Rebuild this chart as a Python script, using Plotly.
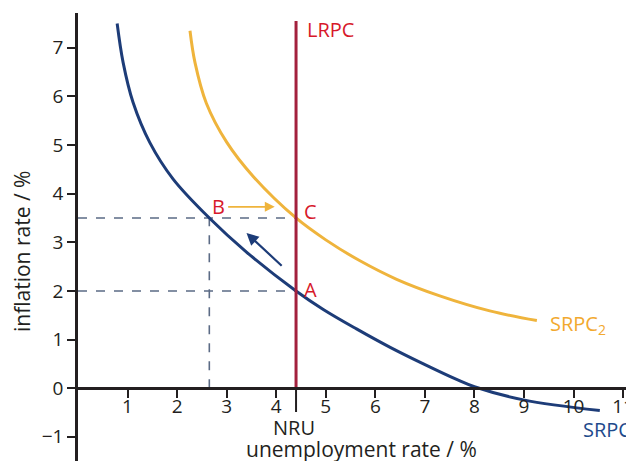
import plotly.graph_objects as go

# ---- data ----
srpc1_x = [0.79, 0.91, 1.11, 1.45, 1.92, 2.65, 3.40, 4.40, 4.95, 5.62, 6.30, 6.97, 7.64, 8.00, 8.99, 10.53]
srpc1_y = [7.50, 6.70, 5.88, 5.05, 4.30, 3.50, 2.80, 2.00, 1.62, 1.22, 0.84, 0.50, 0.18, 0.03, -0.24, -0.46]

srpc2_x = [2.26, 2.36, 2.59, 3.00, 3.54, 4.40, 5.00, 5.69, 6.43, 7.30, 8.31, 9.26]
srpc2_y = [7.35, 6.70, 5.86, 5.06, 4.35, 3.50, 3.05, 2.62, 2.24, 1.90, 1.59, 1.39]

nru = 4.4
lrpc_top = 7.55
point_b = (2.65, 3.5)
point_c = (4.4, 3.5)
point_a = (4.4, 2.0)

x_ticks = [1, 2, 3, 4, 5, 6, 7, 8, 9, 10, 11]
y_ticks = [-1, 0, 1, 2, 3, 4, 5, 6, 7]

BLUE = "#1d3c78"
YELLOW = "#efb43c"
MAROON = "#a3213d"
RED = "#d7182a"
DASH = "#5b6b85"
INK = "#231f20"

fig = go.Figure()

# dashed guides
for xs, ys in [([0, point_c[0]], [point_b[1], point_c[1]]),
               ([0, point_a[0]], [point_a[1], point_a[1]]),
               ([point_b[0], point_b[0]], [0, point_b[1]])]:
    fig.add_trace(go.Scatter(x=xs, y=ys, mode="lines",
                             line=dict(color=DASH, width=1.6, dash="dash"), hoverinfo="skip"))

# curves
fig.add_trace(go.Scatter(x=srpc2_x, y=srpc2_y, mode="lines",
                         line=dict(color=YELLOW, width=3, shape="spline", smoothing=1.0)))
fig.add_trace(go.Scatter(x=srpc1_x, y=srpc1_y, mode="lines",
                         line=dict(color=BLUE, width=3, shape="spline", smoothing=1.0)))

# LRPC
fig.add_trace(go.Scatter(x=[nru, nru], y=[0, lrpc_top], mode="lines",
                         line=dict(color=MAROON, width=3)))
# NRU tick below axis
fig.add_trace(go.Scatter(x=[nru, nru], y=[0, -0.49], mode="lines",
                         line=dict(color=INK, width=2), cliponaxis=False))

ann = [
    dict(x=4.58, y=7.37, text="LRPC", xanchor="left", font=dict(color=RED, size=20)),
    dict(x=2.83, y=3.73, text="B", font=dict(color=RED, size=20)),
    dict(x=4.70, y=3.63, text="C", font=dict(color=RED, size=20)),
    dict(x=4.69, y=2.02, text="A", font=dict(color=RED, size=20)),
    dict(x=9.49, y=1.32, text="SRPC<sub>2</sub>", xanchor="left", font=dict(color="#f2a92f", size=20)),
    dict(x=10.15, y=-0.86, text="SRPC<sub>1</sub>", xanchor="left", font=dict(color="#1e4a8c", size=20)),
    dict(x=4.36, y=-0.80, text="NRU", font=dict(color=INK, size=20)),
]
annotations = [dict(a, showarrow=False, xref="x", yref="y", yanchor="middle") for a in ann]
# axis titles, placed where the reference has them
annotations.append(dict(text="inflation rate / %", textangle=-90, showarrow=False,
                        xref="paper", yref="paper", x=-0.1007, y=0.4665,
                        xanchor="center", yanchor="middle", font=dict(size=21, color=INK)))
annotations.append(dict(text="unemployment rate / %", showarrow=False,
                        xref="paper", yref="paper", x=0.509, y=0.027,
                        xanchor="center", yanchor="middle", font=dict(size=21, color=INK)))
# arrows
annotations.append(dict(x=3.97, y=3.73, ax=3.0, ay=3.73, xref="x", yref="y", axref="x", ayref="y",
                        showarrow=True, arrowhead=2, arrowsize=1.1, arrowwidth=1.8, arrowcolor=YELLOW, text=""))
annotations.append(dict(x=3.40, y=3.19, ax=4.14, ay=2.49, xref="x", yref="y", axref="x", ayref="y",
                        showarrow=True, arrowhead=2, arrowsize=1.1, arrowwidth=2.2, arrowcolor=BLUE, text=""))

# page body has an 8px margin, so the figure is sized/offset to compensate
fig.update_layout(
    width=626, height=453,
    margin=dict(l=70, r=0, t=5, b=0),
    paper_bgcolor="white", plot_bgcolor="white",
    showlegend=False,
    font=dict(family="Open Sans", size=19, color=INK),
    annotations=annotations,
    xaxis=dict(range=[0, 11.22], anchor="free", position=0.1625,
               showline=True, linecolor=INK, linewidth=2.5,
               ticks="outside", ticklen=8, tickwidth=2, tickcolor=INK,
               ticklabelstandoff=-8, tickfont=dict(size=19),
               tickvals=x_ticks, showgrid=False, zeroline=False, automargin=False),
    yaxis=dict(range=[-1.497, 7.715],
               showline=True, linecolor=INK, linewidth=2.5,
               ticks="outside", ticklen=8, tickwidth=2, tickcolor=INK,
               tickfont=dict(size=19),
               tickvals=y_ticks, showgrid=False, zeroline=False, automargin=False),
)

fig.write_html("out.html")
